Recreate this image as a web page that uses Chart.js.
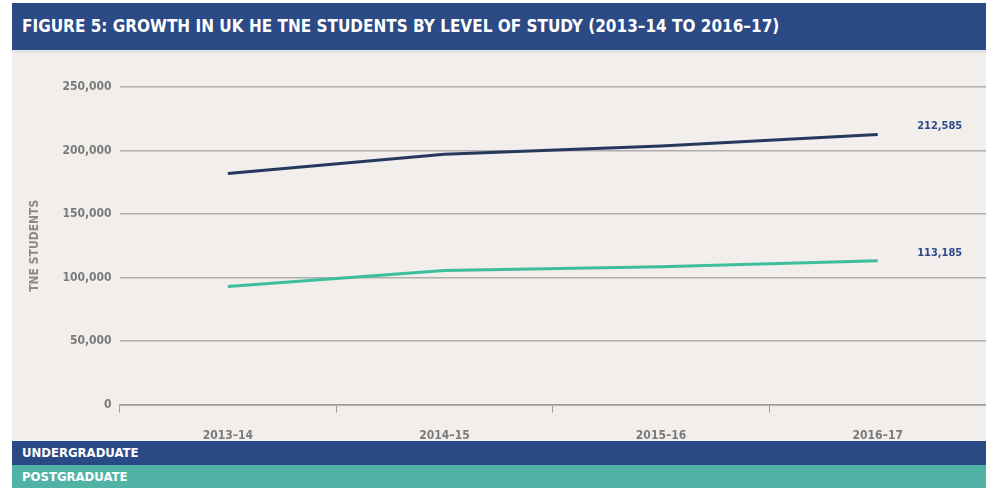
<!DOCTYPE html>
<html>
<head>
<meta charset="utf-8">
<script src="https://cdn.jsdelivr.net/npm/chart.js@4/dist/chart.umd.min.js"></script>
<style>
  html, body { margin: 0; padding: 0; background: #ffffff; }
  #wrap { position: absolute; left: 12px; top: 3px; width: 974px; height: 485px; background: #f1eeeb; overflow: hidden; }
  #title { position: absolute; left: 0; top: 0; width: 974px; height: 47px; background: #2b4a86;
           color: #ffffff; font-family: "DejaVu Sans Condensed", "Liberation Sans Narrow", sans-serif; font-weight: bold;
           font-size: 17px; line-height: 47px; padding-left: 10px; box-sizing: border-box; white-space: nowrap; }
  #titlestrip { position: absolute; left: 0; top: 47px; width: 974px; height: 3px; background: #e4e3ea; }
  #chartbox { position: absolute; left: 0; top: 47px; width: 974px; height: 411px; }
  #legend { position: absolute; left: 0; top: 438px; width: 974px; }
  .leg { height: 23.5px; line-height: 24px; color: #ffffff; font-family: "DejaVu Sans Condensed", "Liberation Sans Narrow", sans-serif;
         font-weight: bold; font-size: 13px; padding-left: 10px; box-sizing: border-box; }
</style>
</head>
<body>
<div id="wrap">
  <div id="title">FIGURE 5: GROWTH IN UK HE TNE STUDENTS BY LEVEL OF STUDY (2013–14 TO 2016–17)</div>
  <div id="titlestrip"></div>
  <div id="chartbox"><canvas id="c"></canvas></div>
  <div id="legend"></div>
</div>
<script>
const categories = ["2013–14", "2014–15", "2015–16", "2016–17"];
const seriesNames = ["UNDERGRADUATE", "POSTGRADUATE"];
const undergraduate = [182000, 197000, 203500, 212585];
const postgraduate = [93000, 105500, 108500, 113185];
const yTicks = [0, 50000, 100000, 150000, 200000, 250000];

const lineColors = ["#27385f", "#3dbf9d"];
const legendColors = ["#2a4a86", "#50b3a6"];

const fmt = v => v.toLocaleString("en-GB");

// legend bars built from series names
const legendEl = document.getElementById("legend");
seriesNames.forEach((n, i) => {
  const d = document.createElement("div");
  d.className = "leg";
  d.style.background = legendColors[i];
  d.textContent = n;
  legendEl.appendChild(d);
});

const endLabels = {
  id: "endLabels",
  afterDatasetsDraw(chart) {
    const ctx = chart.ctx;
    const x = chart.scales.x, y = chart.scales.y;
    ctx.save();
    ctx.font = "bold 11px 'DejaVu Sans Condensed', 'Liberation Sans Narrow', sans-serif";
    ctx.fillStyle = "#2e4a8a";
    ctx.textAlign = "center";
    ctx.textBaseline = "middle";
    chart.data.datasets.forEach(ds => {
      const last = ds.data.length - 1;
      const px = x.getPixelForValue(last) + 62;
      const py = y.getPixelForValue(ds.data[last]) - 8;
      ctx.fillText(fmt(ds.data[last]), px, py);
    });
    ctx.restore();
  }
};

Chart.defaults.font.family = "'DejaVu Sans Condensed', 'Liberation Sans Narrow', sans-serif";

new Chart(document.getElementById("c"), {
  type: "line",
  data: {
    labels: categories,
    datasets: [
      { label: seriesNames[0], data: undergraduate, borderColor: lineColors[0], borderWidth: 3, pointRadius: 0, tension: 0, fill: false },
      { label: seriesNames[1], data: postgraduate, borderColor: lineColors[1], borderWidth: 3, pointRadius: 0, tension: 0, fill: false }
    ]
  },
  options: {
    responsive: true,
    maintainAspectRatio: false,
    animation: false,
    layout: { padding: { top: 37, right: 0, bottom: 2, left: 16 } },
    plugins: { legend: { display: false }, tooltip: { enabled: false } },
    scales: {
      x: {
        offset: true,
        grid: { display: true, drawOnChartArea: false, drawTicks: true, tickLength: 8, color: "#9a9a9a", lineWidth: 1, offset: true },
        border: { display: true, color: "#9a9a9a", width: 1.5 },
        ticks: { color: "#7a7a7a", font: { size: 12, weight: "bold" }, padding: 16 }
      },
      y: {
        min: 0, max: 250000,
        afterBuildTicks: axis => { axis.ticks = yTicks.map(v => ({ value: v })); },
        grid: { color: "#b0aeac", lineWidth: 1.5, drawTicks: false },
        border: { display: false },
        ticks: { color: "#7a7a7a", font: { size: 12, weight: "bold" }, padding: 8, callback: v => fmt(v) },
        title: { display: true, text: "TNE STUDENTS", color: "#8a8a8a", font: { size: 12, weight: "bold" }, padding: { top: 0, bottom: 12 } }
      }
    }
  },
  plugins: [endLabels]
});
</script>
</body>
</html>
